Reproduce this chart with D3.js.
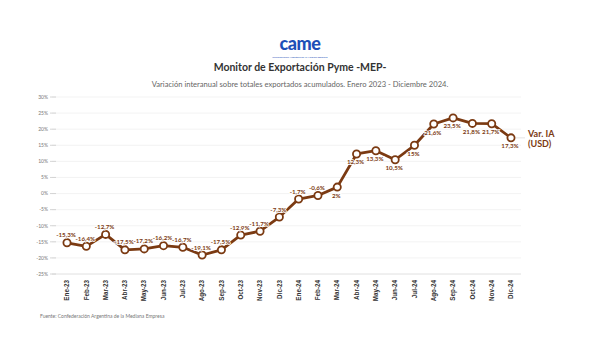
<!DOCTYPE html>
<html><head><meta charset="utf-8">
<script src="https://cdn.jsdelivr.net/npm/d3@7"></script>
<style>body{margin:0;background:#fff}</style>
</head><body>
<svg id="c" width="600" height="360"></svg>
<script>
const months = ["Ene-23","Feb-23","Mar-23","Abr-23","May-23","Jun-23","Jul-23","Ago-23","Sep-23","Oct-23","Nov-23","Dic-23","Ene-24","Feb-24","Mar-24","Abr-24","May-24","Jun-24","Jul-24","Ago-24","Sep-24","Oct-24","Nov-24","Dic-24"];
const values = [-15.3,-16.4,-12.7,-17.5,-17.2,-16.2,-16.7,-19.1,-17.5,-12.9,-11.7,-7.3,-1.7,-0.6,2,12.3,13.3,10.5,15,21.6,23.5,21.8,21.7,17.3];
const yTicks = [30,25,20,15,10,5,0,-5,-10,-15,-20,-25];
const seriesName = ["Var. IA","(USD)"];

const svg = d3.select("#c");
const brown = "#7b3a12";
const x = d3.scalePoint().domain(months).range([67,511]);
const y = d3.scaleLinear().domain([-25,30]).range([274,97]);

// logo
const logo = svg.append("g");
logo.append("text").attr("x",300).attr("y",50).attr("text-anchor","middle")
  .attr("font-family","Lato, sans-serif").attr("font-weight",900).attr("font-size",18)
  .attr("fill","#1d4fb8").attr("letter-spacing","-0.5").text("came");
logo.append("text").attr("x",300).attr("y",57.5).attr("text-anchor","middle")
  .attr("font-family","Lato, sans-serif").attr("font-size",2.6).attr("fill","#1d4fb8")
  .text("Confederación Argentina de la Mediana Empresa");

svg.append("text").attr("x",300).attr("y",71).attr("text-anchor","middle")
  .attr("font-family","Lato, sans-serif").attr("font-weight",700).attr("font-size",10.5)
  .attr("fill","#333").text("Monitor de Exportación Pyme -MEP-");
svg.append("text").attr("x",300).attr("y",87).attr("text-anchor","middle")
  .attr("font-family","Lato, sans-serif").attr("font-size",7.6)
  .attr("fill","#666").text("Variación interanual sobre totales exportados acumulados. Enero 2023 - Diciembre 2024.");

// grid
const grid = svg.append("g");
grid.selectAll("line").data(yTicks).join("line")
  .attr("x1",52).attr("x2",521).attr("y1",d=>y(d)).attr("y2",d=>y(d))
  .attr("stroke",d=>d===-25?"#d8d8d8":"#f0f0f0").attr("stroke-width",0.8);
grid.selectAll("line.t").data(yTicks).join("line").attr("class","t")
  .attr("x1",50).attr("x2",56).attr("y1",d=>y(d)).attr("y2",d=>y(d))
  .attr("stroke","#ccc").attr("stroke-width",0.8);
grid.selectAll("text").data(yTicks).join("text")
  .attr("x",48).attr("y",d=>y(d)+1.8).attr("text-anchor","end")
  .attr("font-family","Lato, sans-serif").attr("font-size",5).attr("fill","#777")
  .text(d=>d+"%");

// x labels
svg.append("g").selectAll("text").data(months).join("text")
  .attr("transform",d=>`translate(${x(d)+2.2},280) rotate(-90)`)
  .attr("text-anchor","end")
  .attr("font-family","Liberation Sans, Arial, sans-serif").attr("font-weight",700).attr("font-size",6.3)
  .attr("fill","#333").text(d=>d);

// line
const data = months.map((m,i)=>({m,v:values[i]}));
svg.append("path").datum(data)
  .attr("d",d3.line().x(d=>x(d.m)).y(d=>y(d.v)))
  .attr("fill","none").attr("stroke",brown).attr("stroke-width",2.8).attr("stroke-linejoin","round");

// leader
svg.append("line").attr("x1",x("Dic-24")+5).attr("x2",x("Dic-24")+14)
  .attr("y1",y(17.3)).attr("y2",y(17.3)).attr("stroke","#ddd").attr("stroke-width",0.8);

svg.append("g").selectAll("circle").data(data).join("circle")
  .attr("cx",d=>x(d.m)).attr("cy",d=>y(d.v)).attr("r",3.6)
  .attr("fill","#fff").attr("stroke",brown).attr("stroke-width",1.8);

// value labels
const fmt = v => String(v).replace(".",",")+"%";
svg.append("g").selectAll("text").data(data).join("text")
  .attr("x",d=>x(d.m)-1).attr("y",d=>d.v<0 ? y(d.v)-5.5 : y(d.v)+10.5)
  .attr("text-anchor","middle")
  .attr("font-family","Lato, sans-serif").attr("font-weight",700).attr("font-size",6.2)
  .attr("fill",brown).attr("stroke","#fff").attr("stroke-width",1.6).attr("paint-order","stroke")
  .text(d=>fmt(d.v));

// series label
svg.append("g").selectAll("text").data(seriesName).join("text")
  .attr("x",528).attr("y",(d,i)=>y(17.3)-1+i*10)
  .attr("font-family","Lato, sans-serif").attr("font-weight",700).attr("font-size",9)
  .attr("fill",brown).text(d=>d);

svg.append("text").attr("x",40).attr("y",318)
  .attr("font-family","Lato, sans-serif").attr("font-size",5).attr("fill","#777")
  .text("Fuente: Confederación Argentina de la Mediana Empresa");
</script>
</body></html>
